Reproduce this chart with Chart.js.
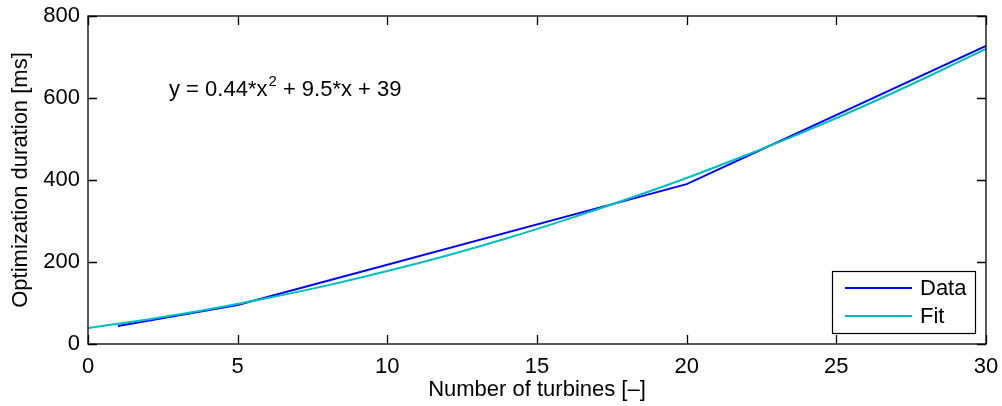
<!DOCTYPE html>
<html>
<head>
<meta charset="utf-8">
<script src="https://cdn.jsdelivr.net/npm/chart.js@4"></script>
<style>
  html, body { margin: 0; padding: 0; background: #fff; }
  #wrap { width: 1002px; height: 406px; }
</style>
</head>
<body>
<div id="wrap"><canvas id="myChart" width="1002" height="406"></canvas></div>
<script>
const dataX = [1, 5, 20, 30];
const dataY = [44, 95, 390, 727];

const fitX = [0, 2, 4, 6, 8, 10, 12, 14, 16, 18, 20, 22, 24, 26, 28, 30];
const fitY = [39, 60, 84, 112, 143, 178, 216, 258, 304, 353, 405, 461, 520, 583, 650, 720];

const xTicks = [0, 5, 10, 15, 20, 25, 30];
const yTicks = [0, 200, 400, 600, 800];

const FONT = "'Liberation Sans', Arial, Helvetica, sans-serif";
const FS = 22;

const toPoints = (xs, ys) => xs.map((x, i) => ({ x: x, y: ys[i] }));

// frame, inward ticks, legend box and equation text
const framePlugin = {
  id: "frame",
  afterDraw(chart) {
    const { ctx, chartArea: a, scales } = chart;
    ctx.save();
    ctx.strokeStyle = "#000";
    ctx.lineWidth = 1.3;
    ctx.strokeRect(a.left, a.top, a.right - a.left, a.bottom - a.top);

    const len = 9;
    ctx.beginPath();
    xTicks.forEach(v => {
      const px = Math.round(scales.x.getPixelForValue(v)) + 0.5;
      ctx.moveTo(px, a.bottom); ctx.lineTo(px, a.bottom - len);
      ctx.moveTo(px, a.top); ctx.lineTo(px, a.top + len);
    });
    yTicks.forEach(v => {
      const py = Math.round(scales.y.getPixelForValue(v)) + 0.5;
      ctx.moveTo(a.left, py); ctx.lineTo(a.left + len, py);
      ctx.moveTo(a.right, py); ctx.lineTo(a.right - len, py);
    });
    ctx.stroke();

    // legend
    const lx = 832, ly = 271, lw = 143, lh = 62;
    ctx.fillStyle = "#fff";
    ctx.fillRect(lx, ly, lw, lh);
    ctx.lineWidth = 1.2;
    ctx.strokeRect(lx + 0.5, ly + 0.5, lw, lh);
    ctx.font = FS + "px " + FONT;
    ctx.textBaseline = "middle";
    ctx.textAlign = "left";
    chart.data.datasets.forEach((ds, i) => {
      const yy = ly + 17 + i * 28;
      ctx.strokeStyle = ds.borderColor;
      ctx.lineWidth = 2;
      ctx.beginPath();
      ctx.moveTo(lx + 13, yy); ctx.lineTo(lx + 80, yy);
      ctx.stroke();
      ctx.fillStyle = "#000";
      ctx.fillText(ds.label, lx + 88, yy + 1);
    });

    // equation
    ctx.fillStyle = "#000";
    ctx.textBaseline = "alphabetic";
    ctx.font = FS + "px " + FONT;
    let x = 169;
    const base = 96;
    const part1 = "y = 0.44*x";
    ctx.fillText(part1, x, base);
    x += ctx.measureText(part1).width;
    ctx.font = "15px " + FONT;
    ctx.fillText("2", x + 1, base - 10);
    x += ctx.measureText("2").width + 1;
    ctx.font = FS + "px " + FONT;
    ctx.fillText(" + 9.5*x + 39", x, base);
    ctx.restore();
  }
};

const ctx = document.getElementById("myChart").getContext("2d");
new Chart(ctx, {
  type: "scatter",
  data: {
    datasets: [
      {
        label: "Data",
        data: toPoints(dataX, dataY),
        showLine: true,
        borderColor: "#0000ff",
        borderWidth: 2,
        pointRadius: 0,
        tension: 0,
        order: 1
      },
      {
        label: "Fit",
        data: toPoints(fitX, fitY),
        showLine: true,
        borderColor: "#00bfbf",
        borderWidth: 2,
        pointRadius: 0,
        tension: 0.3,
        order: 0
      }
    ]
  },
  options: {
    responsive: false,
    animation: false,
    events: [],
    layout: { padding: { top: 16, right: 16, left: 0, bottom: 0 } },
    plugins: { legend: { display: false }, tooltip: { enabled: false } },
    scales: {
      x: {
        type: "linear",
        min: 0, max: 30,
        afterBuildTicks: s => { s.ticks = xTicks.map(v => ({ value: v })); },
        afterFit: s => { s.height = 62; s.paddingRight = 0; s.paddingLeft = 0; },
        grid: { display: false, drawTicks: false },
        border: { display: false },
        ticks: { color: "#000", font: { family: FONT, size: FS }, padding: 10, maxRotation: 0 },
        title: { display: true, text: "Number of turbines [–]", color: "#000", font: { family: FONT, size: FS }, padding: { top: 0, bottom: 3 } }
      },
      y: {
        type: "linear",
        min: 0, max: 800,
        afterBuildTicks: s => { s.ticks = yTicks.map(v => ({ value: v })); },
        afterFit: s => { s.width = 88; s.paddingTop = 0; s.paddingBottom = 0; },
        grid: { display: false, drawTicks: false },
        border: { display: false },
        ticks: { color: "#000", font: { family: FONT, size: FS }, padding: 8 },
        title: { display: true, text: "Optimization duration [ms]", color: "#000", font: { family: FONT, size: FS }, padding: { top: 8, bottom: 0 } }
      }
    }
  },
  plugins: [framePlugin]
});
</script>
</body>
</html>
